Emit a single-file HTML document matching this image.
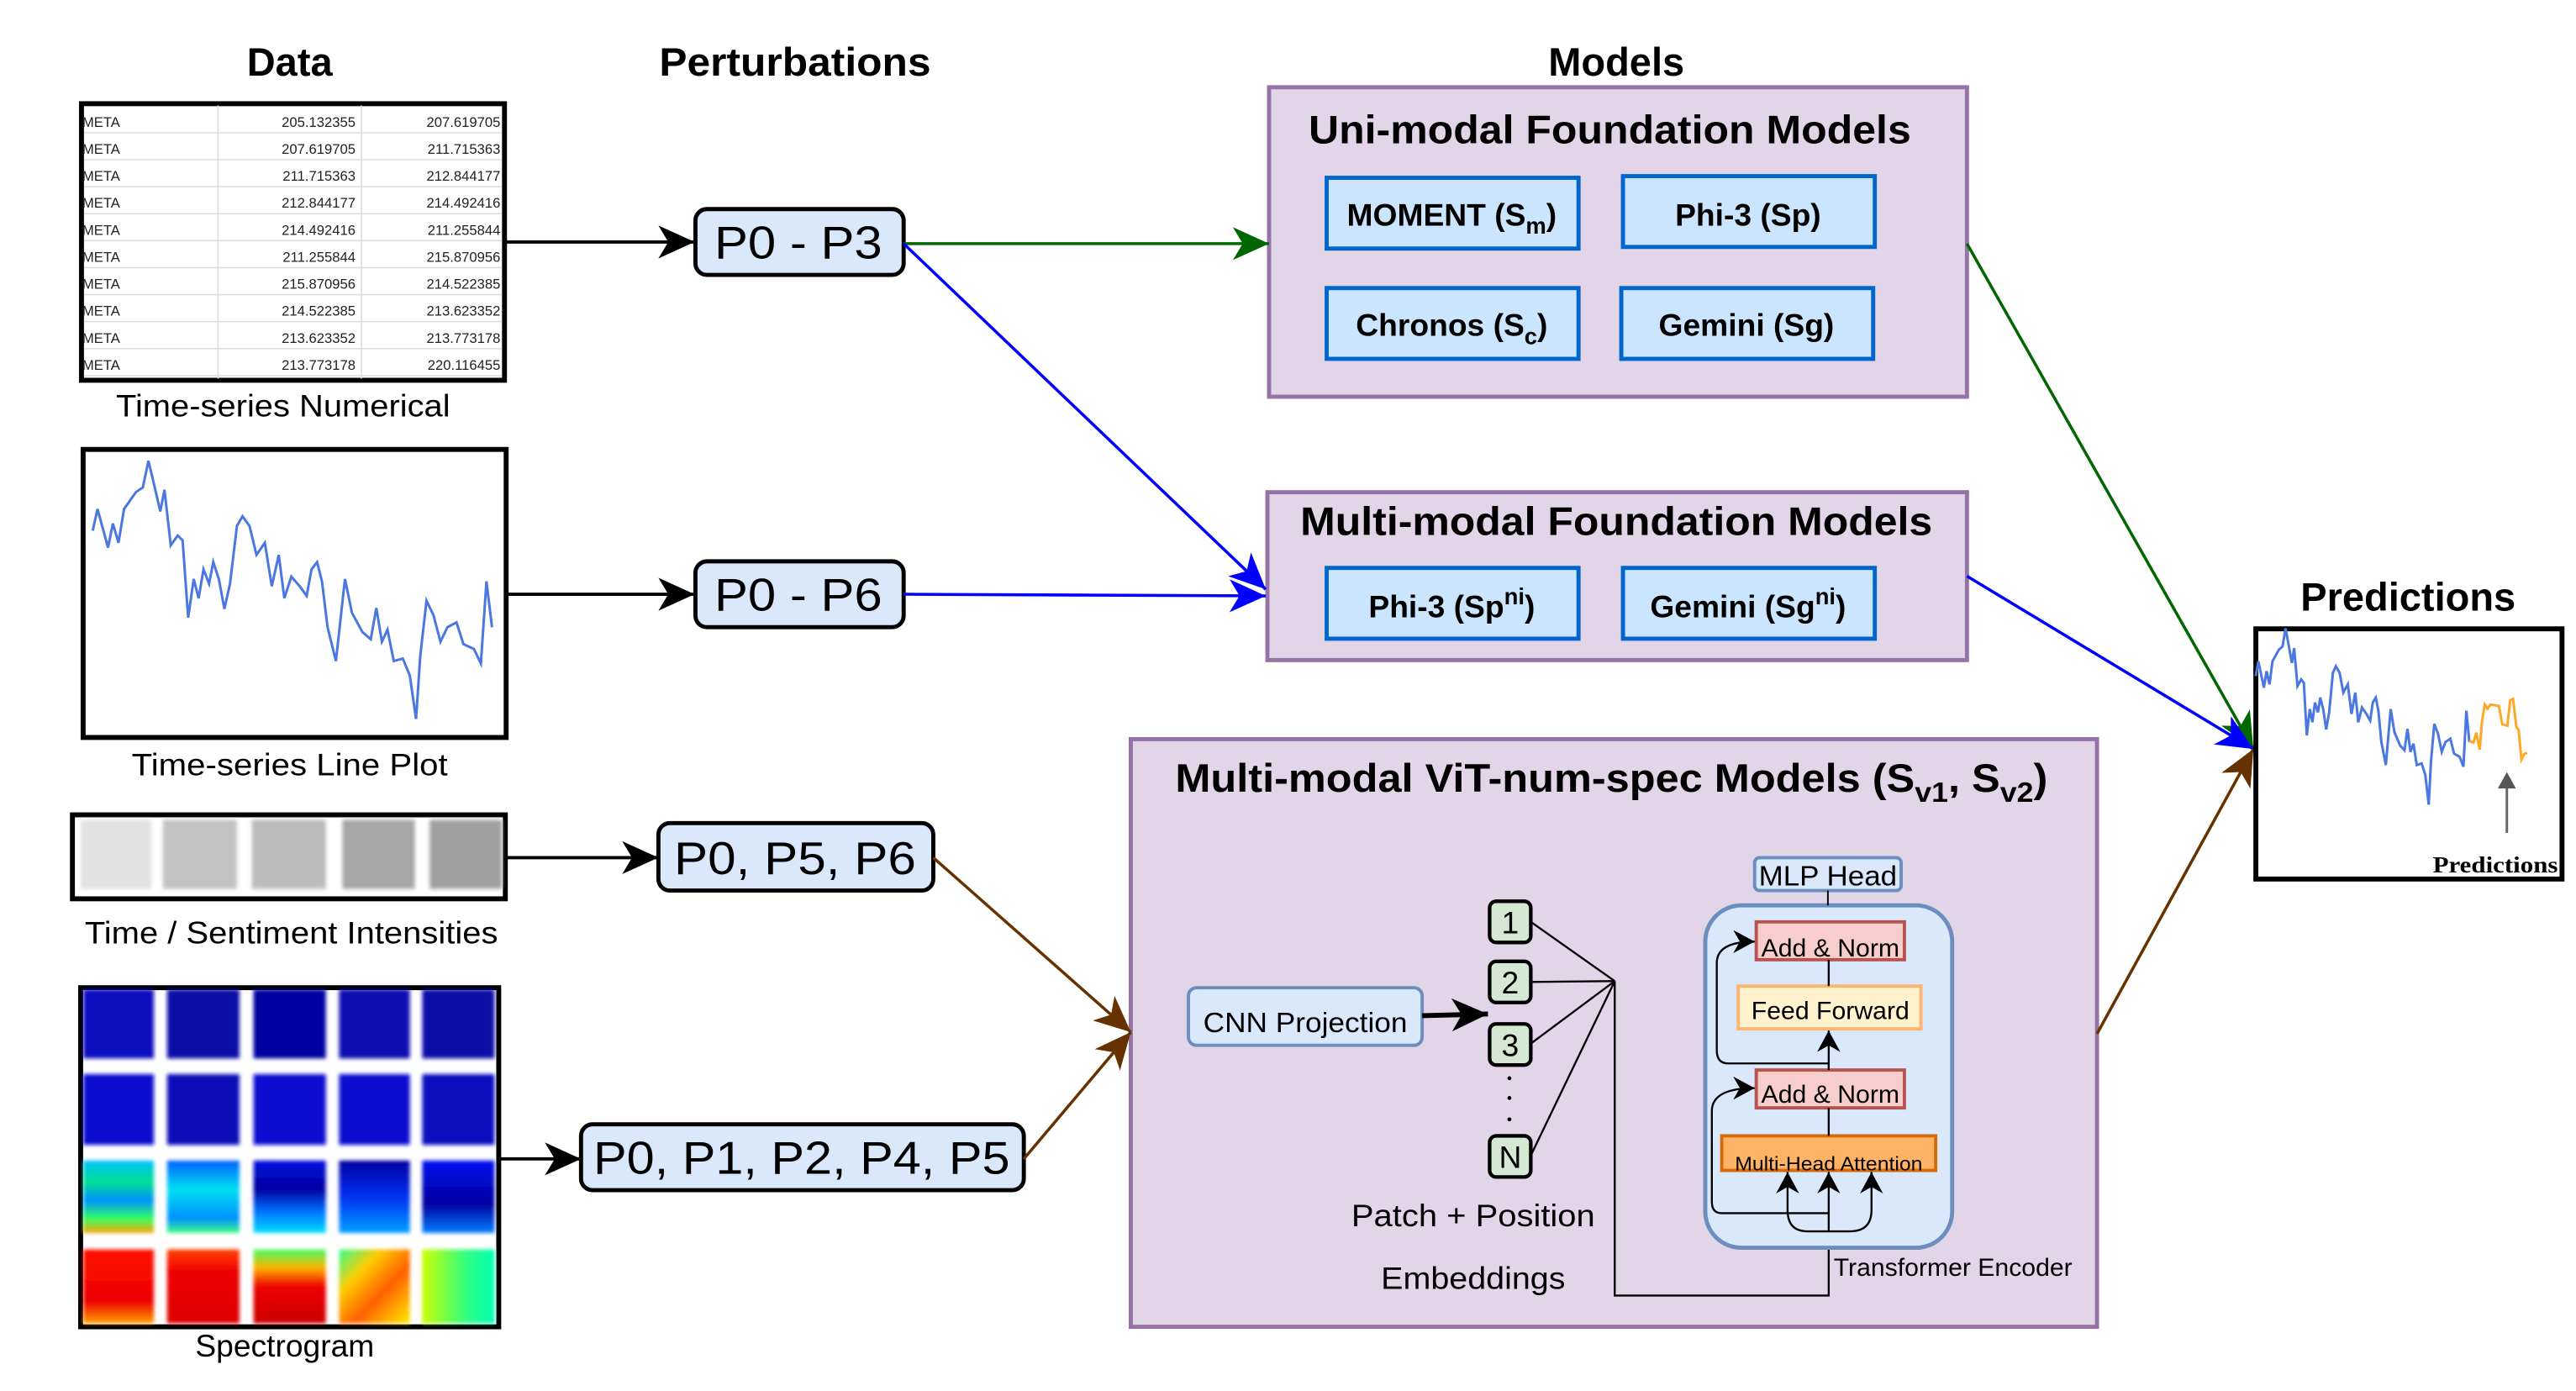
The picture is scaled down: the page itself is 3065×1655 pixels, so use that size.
<!DOCTYPE html>
<html><head><meta charset="utf-8"><style>
html,body{margin:0;padding:0;background:#fff;}
svg{display:block;}
text{font-family:"Liberation Sans",sans-serif;}
</style></head><body>
<svg width="3065" height="1655" viewBox="0 0 1565 845" preserveAspectRatio="none" xmlns="http://www.w3.org/2000/svg">
<defs>
<marker id="ab" markerUnits="userSpaceOnUse" markerWidth="24" markerHeight="20" refX="22" refY="10" orient="auto"><path d="M0,0 L22,10 L0,20 L6,10 Z" fill="#000"/></marker>
<marker id="ag" markerUnits="userSpaceOnUse" markerWidth="24" markerHeight="20" refX="22" refY="10" orient="auto"><path d="M0,0 L22,10 L0,20 L6,10 Z" fill="#006600"/></marker>
<marker id="au" markerUnits="userSpaceOnUse" markerWidth="24" markerHeight="20" refX="22" refY="10" orient="auto"><path d="M0,0 L22,10 L0,20 L6,10 Z" fill="#0000ff"/></marker>
<marker id="ar" markerUnits="userSpaceOnUse" markerWidth="24" markerHeight="20" refX="22" refY="10" orient="auto"><path d="M0,0 L22,10 L0,20 L6,10 Z" fill="#663300"/></marker>
<marker id="as" markerUnits="userSpaceOnUse" markerWidth="14" markerHeight="14" refX="13" refY="7" orient="auto"><path d="M0,0 L13,7 L0,14 L4,7 Z" fill="#000"/></marker>
<filter id="bl"><feGaussianBlur stdDeviation="1.2"/></filter>
<linearGradient id="g3a" x1="0" y1="0" x2="0" y2="1"><stop offset="0" stop-color="#00c0ff"/><stop offset="0.3" stop-color="#00e090"/><stop offset="0.55" stop-color="#0090ff"/><stop offset="0.8" stop-color="#30ff60"/><stop offset="1" stop-color="#ffa000"/></linearGradient>
<linearGradient id="g3b" x1="0" y1="0" x2="0" y2="1"><stop offset="0" stop-color="#0060ff"/><stop offset="0.4" stop-color="#00e0f0"/><stop offset="0.8" stop-color="#0090ff"/><stop offset="1" stop-color="#40ff80"/></linearGradient>
<linearGradient id="g3c" x1="0" y1="0" x2="0" y2="1"><stop offset="0" stop-color="#0010e0"/><stop offset="0.4" stop-color="#0000a0"/><stop offset="0.7" stop-color="#0070ff"/><stop offset="1" stop-color="#00e0ff"/></linearGradient>
<linearGradient id="g3d" x1="0" y1="0" x2="0" y2="1"><stop offset="0" stop-color="#0000a0"/><stop offset="0.5" stop-color="#0030f0"/><stop offset="1" stop-color="#00a0ff"/></linearGradient>
<linearGradient id="g3e" x1="0" y1="0" x2="0" y2="1"><stop offset="0" stop-color="#0010f0"/><stop offset="0.6" stop-color="#0000a0"/><stop offset="1" stop-color="#0080ff"/></linearGradient>
<linearGradient id="g4a" x1="0" y1="0" x2="0" y2="1"><stop offset="0" stop-color="#ff1000"/><stop offset="0.7" stop-color="#ee0000"/><stop offset="1" stop-color="#ffa000"/></linearGradient>
<linearGradient id="g4b" x1="0" y1="0" x2="0" y2="1"><stop offset="0" stop-color="#ff4000"/><stop offset="0.3" stop-color="#ee0000"/><stop offset="1" stop-color="#dd0000"/></linearGradient>
<linearGradient id="g4c" x1="0" y1="0" x2="0" y2="1"><stop offset="0" stop-color="#40ff60"/><stop offset="0.25" stop-color="#ffb000"/><stop offset="0.5" stop-color="#ee0000"/><stop offset="1" stop-color="#cc0000"/></linearGradient>
<linearGradient id="g4d" x1="0" y1="0" x2="1" y2="1"><stop offset="0" stop-color="#30ff90"/><stop offset="0.3" stop-color="#ffcc00"/><stop offset="0.6" stop-color="#ff6000"/><stop offset="1" stop-color="#ffee00"/></linearGradient>
<linearGradient id="g4e" x1="0" y1="0" x2="1" y2="0"><stop offset="0" stop-color="#ccff00"/><stop offset="0.6" stop-color="#30ff80"/><stop offset="1" stop-color="#00ffb0"/></linearGradient>
</defs>

<!-- titles -->
<text x="176" y="46" font-size="24" font-weight="bold" text-anchor="middle">Data</text>
<text x="483" y="46" font-size="24" font-weight="bold" text-anchor="middle" textLength="165" lengthAdjust="spacingAndGlyphs">Perturbations</text>
<text x="982" y="46" font-size="24" font-weight="bold" text-anchor="middle">Models</text>

<!-- table -->
<rect x="49.5" y="63" width="257" height="168" fill="#fff" stroke="#000" stroke-width="3"/>
<g stroke="#ddd" stroke-width="0.8">
<line x1="132.5" y1="64" x2="132.5" y2="230"/><line x1="219.5" y1="64" x2="219.5" y2="230"/>
<line x1="51" y1="80.6" x2="305" y2="80.6"/><line x1="51" y1="97" x2="305" y2="97"/><line x1="51" y1="113.4" x2="305" y2="113.4"/><line x1="51" y1="129.8" x2="305" y2="129.8"/><line x1="51" y1="146.2" x2="305" y2="146.2"/><line x1="51" y1="162.6" x2="305" y2="162.6"/><line x1="51" y1="179" x2="305" y2="179"/><line x1="51" y1="195.4" x2="305" y2="195.4"/><line x1="51" y1="211.8" x2="305" y2="211.8"/><line x1="51" y1="228.2" x2="305" y2="228.2"/>
</g>
<g font-size="8.5" fill="#222">
<text x="50" y="77">META</text><text x="216" y="77" text-anchor="end">205.132355</text><text x="304" y="77" text-anchor="end">207.619705</text>
<text x="50" y="93.4">META</text><text x="216" y="93.4" text-anchor="end">207.619705</text><text x="304" y="93.4" text-anchor="end">211.715363</text>
<text x="50" y="109.8">META</text><text x="216" y="109.8" text-anchor="end">211.715363</text><text x="304" y="109.8" text-anchor="end">212.844177</text>
<text x="50" y="126.2">META</text><text x="216" y="126.2" text-anchor="end">212.844177</text><text x="304" y="126.2" text-anchor="end">214.492416</text>
<text x="50" y="142.6">META</text><text x="216" y="142.6" text-anchor="end">214.492416</text><text x="304" y="142.6" text-anchor="end">211.255844</text>
<text x="50" y="159">META</text><text x="216" y="159" text-anchor="end">211.255844</text><text x="304" y="159" text-anchor="end">215.870956</text>
<text x="50" y="175.4">META</text><text x="216" y="175.4" text-anchor="end">215.870956</text><text x="304" y="175.4" text-anchor="end">214.522385</text>
<text x="50" y="191.8">META</text><text x="216" y="191.8" text-anchor="end">214.522385</text><text x="304" y="191.8" text-anchor="end">213.623352</text>
<text x="50" y="208.2">META</text><text x="216" y="208.2" text-anchor="end">213.623352</text><text x="304" y="208.2" text-anchor="end">213.773178</text>
<text x="50" y="224.6">META</text><text x="216" y="224.6" text-anchor="end">213.773178</text><text x="304" y="224.6" text-anchor="end">220.116455</text>
</g>
<text x="172" y="253" font-size="19" text-anchor="middle" textLength="203" lengthAdjust="spacingAndGlyphs">Time-series Numerical</text>

<!-- line plot -->
<rect x="50.5" y="273" width="257" height="175" fill="#fff" stroke="#000" stroke-width="3"/>
<g transform="matrix(0.4234,0,0,0.2931,0,0)">
<polyline id="ser" fill="none" stroke="#4a78e0" stroke-width="3" vector-effect="non-scaling-stroke" points="133,1100 140,1055 155,1135 162,1085 170,1125 178,1055 195,1020 205,1010 213,955 222,1010 230,1060 236,1015 245,1130 255,1110 262,1120 270,1280 278,1200 285,1240 292,1180 300,1210 306,1165 314,1200 322,1262 330,1210 340,1090 348,1070 358,1090 368,1150 380,1125 390,1215 400,1150 408,1240 418,1195 430,1215 440,1235 447,1180 455,1165 462,1205 470,1300 482,1370 495,1200 505,1270 520,1310 532,1325 540,1260 548,1330 556,1305 565,1370 578,1365 588,1400 597,1490 603,1360 612,1245 622,1275 632,1330 642,1300 655,1290 665,1335 680,1345 690,1375 698,1205 706,1300"/>
</g>
<text x="176" y="471" font-size="19" text-anchor="middle" textLength="192" lengthAdjust="spacingAndGlyphs">Time-series Line Plot</text>

<!-- intensities -->
<rect x="44" y="495" width="263" height="51" fill="#fff" stroke="#000" stroke-width="3"/>
<g filter="url(#bl)">
<rect x="49" y="498" width="43" height="42" fill="#e2e2e2"/>
<rect x="99" y="498" width="45" height="42" fill="#c2c2c2"/>
<rect x="153" y="498" width="45" height="42" fill="#bbbbbb"/>
<rect x="208" y="498" width="44" height="42" fill="#a6a6a6"/>
<rect x="261" y="498" width="44" height="42" fill="#a0a0a0"/>
</g>
<text x="177" y="573" font-size="19" text-anchor="middle" textLength="251" lengthAdjust="spacingAndGlyphs">Time / Sentiment Intensities</text>

<!-- spectrogram -->
<rect x="49" y="600" width="254" height="206" fill="#fff" stroke="#000" stroke-width="3"/>
<g filter="url(#bl)">
<rect x="50.5" y="601" width="43" height="42" fill="#0a0ac0"/><rect x="101.5" y="601" width="44" height="42" fill="#0808a8"/><rect x="154" y="601" width="44" height="42" fill="#0606a0"/><rect x="206" y="601" width="43" height="42" fill="#0808b0"/><rect x="256.5" y="601" width="44" height="42" fill="#0808a8"/>
<rect x="50.5" y="652.5" width="43" height="43" fill="#0a10d0"/><rect x="101.5" y="652.5" width="44" height="43" fill="#0808b8"/><rect x="154" y="652.5" width="44" height="43" fill="#0a0ad0"/><rect x="206" y="652.5" width="43" height="43" fill="#0a0ad0"/><rect x="256.5" y="652.5" width="44" height="43" fill="#0808c0"/>
<rect x="50.5" y="705" width="43" height="44" fill="url(#g3a)"/><rect x="101.5" y="705" width="44" height="44" fill="url(#g3b)"/><rect x="154" y="705" width="44" height="44" fill="url(#g3c)"/><rect x="206" y="705" width="43" height="44" fill="url(#g3d)"/><rect x="256.5" y="705" width="44" height="44" fill="url(#g3e)"/>
<rect x="50.5" y="759" width="43" height="45" fill="url(#g4a)"/><rect x="101.5" y="759" width="44" height="45" fill="url(#g4b)"/><rect x="154" y="759" width="44" height="45" fill="url(#g4c)"/><rect x="206" y="759" width="43" height="45" fill="url(#g4d)"/><rect x="256.5" y="759" width="44" height="45" fill="url(#g4e)"/>
</g>
<text x="173" y="824" font-size="19" text-anchor="middle">Spectrogram</text>

<!-- perturbation boxes -->
<g fill="#dae8fc" stroke="#000" stroke-width="2.5">
<rect x="422.5" y="127" width="126.5" height="40" rx="7"/>
<rect x="422.5" y="341" width="126.5" height="40" rx="7"/>
<rect x="400" y="500" width="167" height="41" rx="7"/>
<rect x="353" y="683" width="269" height="40" rx="7"/>
</g>
<g font-size="28" text-anchor="middle">
<text x="485" y="157" textLength="102" lengthAdjust="spacingAndGlyphs">P0 - P3</text>
<text x="485" y="371" textLength="102" lengthAdjust="spacingAndGlyphs">P0 - P6</text>
<text x="483" y="531" textLength="147" lengthAdjust="spacingAndGlyphs">P0, P5, P6</text>
<text x="487" y="713" textLength="253" lengthAdjust="spacingAndGlyphs">P0, P1, P2, P4, P5</text>
</g>

<!-- input arrows -->
<g stroke="#000" stroke-width="2" fill="none">
<line x1="307" y1="147" x2="422" y2="147" marker-end="url(#ab)"/>
<line x1="308" y1="361" x2="422" y2="361" marker-end="url(#ab)"/>
<line x1="307" y1="521" x2="400" y2="521" marker-end="url(#ab)"/>
<line x1="303" y1="704" x2="353" y2="704" marker-end="url(#ab)"/>
</g>

<!-- model boxes -->
<rect x="771" y="53" width="424" height="188" fill="#e1d5e7" stroke="#9673a6" stroke-width="2.5"/>
<text x="978" y="87" font-size="24" font-weight="bold" text-anchor="middle" textLength="366" lengthAdjust="spacingAndGlyphs">Uni-modal Foundation Models</text>
<g fill="#cce5ff" stroke="#0066cc" stroke-width="2.5">
<rect x="806" y="108" width="153" height="43"/><rect x="986" y="107" width="153" height="43"/>
<rect x="806" y="175" width="153" height="43"/><rect x="985" y="175" width="153" height="43"/>
</g>
<g font-size="19" font-weight="bold" text-anchor="middle">
<text x="882" y="137">MOMENT (S<tspan font-size="14" dy="5">m</tspan><tspan dy="-5">)</tspan></text>
<text x="1062" y="137">Phi-3 (Sp)</text>
<text x="882" y="204">Chronos (S<tspan font-size="14" dy="5">c</tspan><tspan dy="-5">)</tspan></text>
<text x="1061" y="204">Gemini (Sg)</text>
</g>
<rect x="770" y="299" width="425" height="102" fill="#e1d5e7" stroke="#9673a6" stroke-width="2.5"/>
<g fill="#cce5ff" stroke="#0066cc" stroke-width="2.5">
<rect x="806" y="345" width="153" height="43"/><rect x="986" y="345" width="153" height="43"/>
</g>
<g font-size="19" font-weight="bold" text-anchor="middle">
<text x="882" y="375">Phi-3 (Sp<tspan font-size="14" dy="-8">ni</tspan><tspan dy="8">)</tspan></text>
<text x="1062" y="375">Gemini (Sg<tspan font-size="14" dy="-8">ni</tspan><tspan dy="8">)</tspan></text>
</g>
<text x="982" y="325" font-size="24" font-weight="bold" text-anchor="middle" textLength="384" lengthAdjust="spacingAndGlyphs">Multi-modal Foundation Models</text>

<!-- ViT box -->
<rect x="687" y="449" width="587" height="357" fill="#e1d5e7" stroke="#9673a6" stroke-width="2.5"/>
<text x="714" y="481" font-size="24" font-weight="bold" textLength="530" lengthAdjust="spacingAndGlyphs">Multi-modal ViT-num-spec Models (S<tspan font-size="17" dy="6">v1</tspan><tspan dy="-6">, S</tspan><tspan font-size="17" dy="6">v2</tspan><tspan dy="-6">)</tspan></text>

<!-- CNN & patches -->
<rect x="722" y="600" width="142" height="35" rx="5" fill="#dae8fc" stroke="#6c8ebf" stroke-width="2"/>
<text x="793" y="627" font-size="17" text-anchor="middle" textLength="124" lengthAdjust="spacingAndGlyphs">CNN Projection</text>
<line x1="864" y1="617" x2="904" y2="616" stroke="#000" stroke-width="3" marker-end="url(#ab)"/>
<g fill="#d5e8d4" stroke="#000" stroke-width="2.2">
<rect x="905" y="547.5" width="25" height="25" rx="4"/>
<rect x="905" y="584" width="25" height="25" rx="4"/>
<rect x="905" y="622" width="25" height="25" rx="4"/>
<rect x="905" y="690" width="25" height="25" rx="4"/>
</g>
<g font-size="19" text-anchor="middle">
<text x="917.5" y="567">1</text><text x="917.5" y="603.5">2</text><text x="917.5" y="641.5">3</text><text x="917.5" y="709.5">N</text>
</g>
<g fill="#000"><circle cx="917" cy="655" r="1.2"/><circle cx="917" cy="667" r="1.2"/><circle cx="917" cy="680" r="1.2"/></g>
<g stroke="#000" stroke-width="1.2" fill="none">
<line x1="930" y1="560" x2="981" y2="596"/><line x1="930" y1="596.5" x2="981" y2="596"/><line x1="930" y1="634" x2="981" y2="596"/><line x1="930" y1="702" x2="981" y2="596"/>
<polyline points="981,596 981,787 1111,787 1111,737"/>
</g>
<text x="895" y="745" font-size="19" text-anchor="middle" textLength="148" lengthAdjust="spacingAndGlyphs">Patch + Position</text>
<text x="895" y="783" font-size="19" text-anchor="middle" textLength="112" lengthAdjust="spacingAndGlyphs">Embeddings</text>

<!-- transformer encoder -->
<rect x="1036" y="550" width="150" height="208" rx="22" fill="#dae8fc" stroke="#6c8ebf" stroke-width="2.5"/>
<rect x="1066" y="521" width="89" height="20" rx="3" fill="#dae8fc" stroke="#6c8ebf" stroke-width="2"/>
<text x="1110.5" y="538" font-size="17" text-anchor="middle" textLength="84" lengthAdjust="spacingAndGlyphs">MLP Head</text>
<line x1="1110.5" y1="541" x2="1110.5" y2="550" stroke="#000" stroke-width="1"/>
<rect x="1067" y="560" width="90" height="23" fill="#f8cecc" stroke="#b85450" stroke-width="2"/>
<text x="1112" y="581" font-size="15" text-anchor="middle" textLength="84" lengthAdjust="spacingAndGlyphs">Add &amp; Norm</text>
<rect x="1056" y="599" width="111" height="26" fill="#fff2cc" stroke="#ffb570" stroke-width="2"/>
<text x="1112" y="619" font-size="15" text-anchor="middle" textLength="96" lengthAdjust="spacingAndGlyphs">Feed Forward</text>
<rect x="1067" y="650" width="90" height="23" fill="#f8cecc" stroke="#b85450" stroke-width="2"/>
<text x="1112" y="670" font-size="15" text-anchor="middle" textLength="84" lengthAdjust="spacingAndGlyphs">Add &amp; Norm</text>
<rect x="1046" y="690" width="130" height="21" fill="#ffb366" stroke="#d46b08" stroke-width="2"/>
<text x="1111" y="711" font-size="12" text-anchor="middle" textLength="114" lengthAdjust="spacingAndGlyphs">Multi-Head Attention</text>
<g stroke="#000" stroke-width="1.2" fill="none">
<line x1="1111" y1="583" x2="1111" y2="599"/>
<line x1="1111" y1="650" x2="1111" y2="626" marker-end="url(#as)"/>
<line x1="1111" y1="673" x2="1111" y2="690"/>
<path d="M1111,646 L1050,646 Q1043,646 1043,638 L1043,585 Q1043,572 1066,572" marker-end="url(#as)"/>
<path d="M1111,737 L1046,737 Q1040,737 1040,730 L1040,675 Q1040,661 1066,661" marker-end="url(#as)"/>
<line x1="1111" y1="737" x2="1111" y2="712" marker-end="url(#as)"/>
<path d="M1111,748 L1098,748 Q1086,748 1086,735 L1086,712" marker-end="url(#as)"/>
<path d="M1111,748 L1124,748 Q1137,748 1137,735 L1137,712" marker-end="url(#as)"/>
<line x1="1111" y1="737" x2="1111" y2="748"/>
</g>
<text x="1114" y="775" font-size="15" textLength="145" lengthAdjust="spacingAndGlyphs">Transformer Encoder</text>

<!-- connectors -->
<g stroke-width="1.8" fill="none">
<line x1="549" y1="148" x2="771" y2="148" stroke="#006600" marker-end="url(#ag)"/>
<line x1="549" y1="148" x2="769" y2="358" stroke="#0000ff" marker-end="url(#au)"/>
<line x1="549" y1="361" x2="769" y2="362" stroke="#0000ff" marker-end="url(#au)"/>
<line x1="567" y1="521" x2="687" y2="627" stroke="#663300" marker-end="url(#ar)"/>
<line x1="622" y1="704" x2="687" y2="627" stroke="#663300" marker-end="url(#ar)"/>
<line x1="1195" y1="148" x2="1369" y2="455" stroke="#006600" marker-end="url(#ag)"/>
<line x1="1195" y1="350" x2="1369" y2="455" stroke="#0000ff" marker-end="url(#au)"/>
<line x1="1274" y1="628" x2="1369" y2="455" stroke="#663300" marker-end="url(#ar)"/>
</g>

<!-- predictions -->
<text x="1463" y="371" font-size="24" font-weight="bold" text-anchor="middle">Predictions</text>
<rect x="1370.5" y="382" width="186" height="152" fill="#fff" stroke="#000" stroke-width="3"/>
<g transform="matrix(0.2265,0,0,0.2002,1340.3,190.5)">
<use href="#ser"/>
</g>
<g transform="matrix(0.1714,0,0,0.1714,1327.9,332)">
<polyline fill="none" stroke="#ffa726" stroke-width="3" vector-effect="non-scaling-stroke" points="1005,690 1020,695 1030,660 1042,720 1050,620 1060,560 1070,575 1080,560 1110,565 1122,630 1140,635 1150,545 1160,540 1172,640 1180,650 1190,755 1200,735 1210,732"/>
</g>
<line x1="1523" y1="506" x2="1523" y2="472" stroke="#666" stroke-width="1.5"/>
<path d="M1517.5,479 L1523,469 L1528.5,479 Z" fill="#555"/>
<text x="1516" y="530" font-size="14" font-weight="bold" text-anchor="middle" textLength="76" lengthAdjust="spacingAndGlyphs" style="font-family:'Liberation Serif',serif">Predictions</text>
</svg>
</body></html>
